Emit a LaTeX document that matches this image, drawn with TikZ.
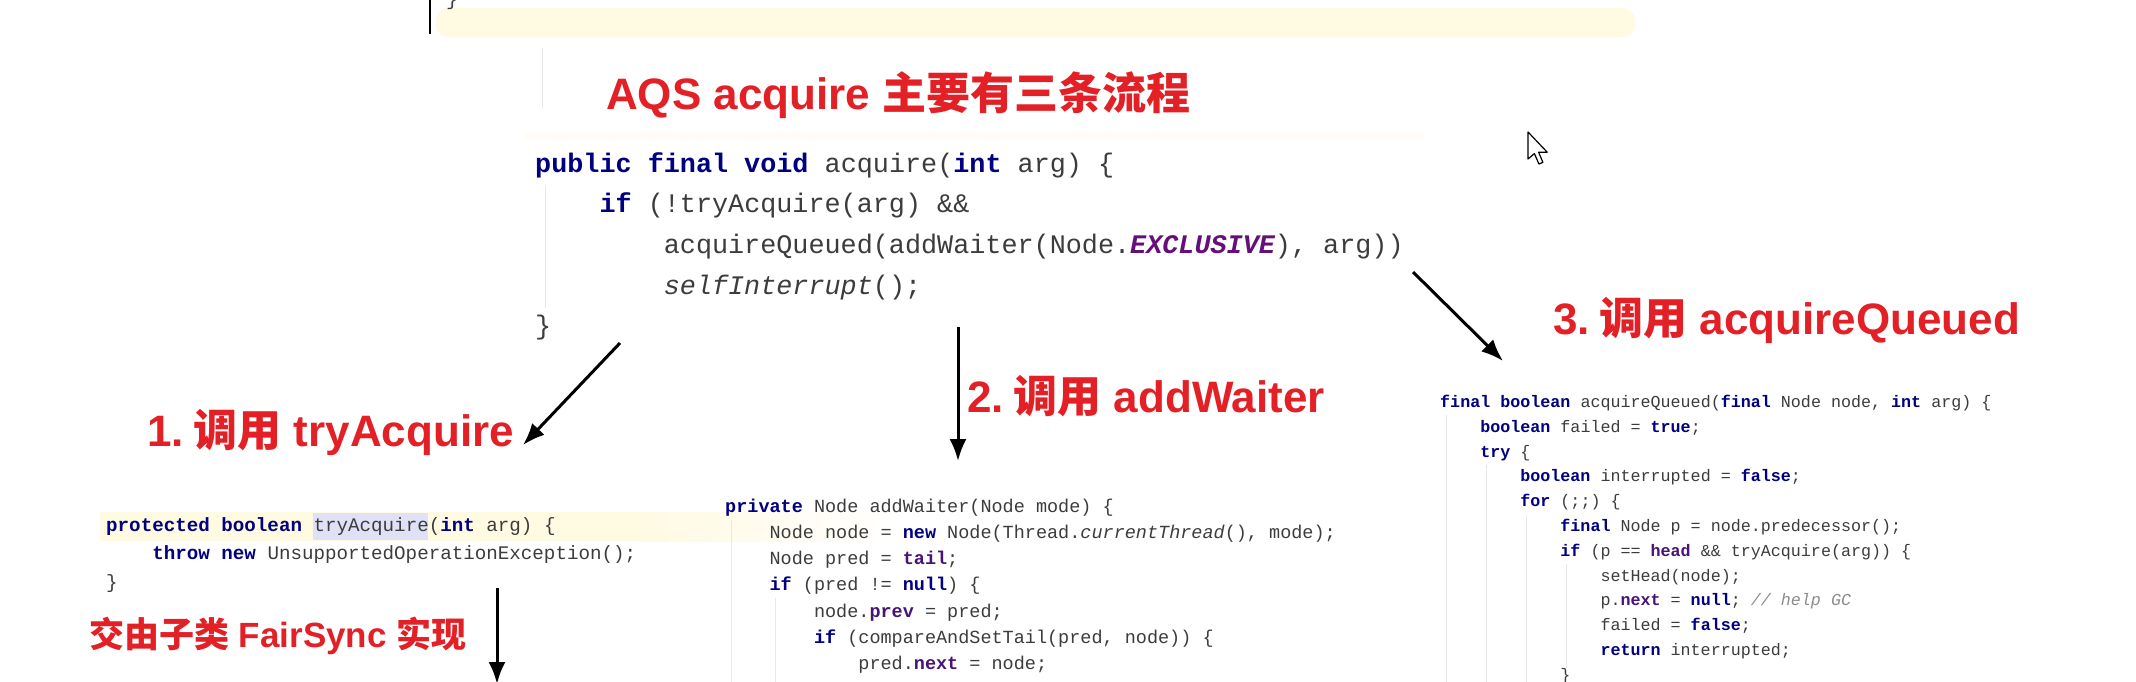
\documentclass[tikz,border=0pt]{standalone}
\usepackage{fontspec}
\setmainfont{Liberation Sans}
\newfontfamily\cjk{Noto Sans CJK SC}
\newfontfamily\codefont{Liberation Mono}
\usetikzlibrary{arrows.meta,positioning}

\definecolor{labelred}{RGB}{226,32,38}
\definecolor{codekw}{RGB}{0,0,128}
\definecolor{codefld}{RGB}{70,20,120}
\definecolor{codecst}{RGB}{102,14,122}
\definecolor{codetxt}{RGB}{60,60,60}
\definecolor{codecmt}{RGB}{140,140,140}
\definecolor{linehl}{RGB}{255,250,226}
\definecolor{wordhl}{RGB}{224,224,246}

\newcommand\kw[1]{{\bfseries\color{codekw}#1}}
\newcommand\fld[1]{{\bfseries\color{codefld}#1}}
\newcommand\cst[1]{{\bfseries\itshape\color{codecst}#1}}
\newcommand\itl[1]{{\itshape #1}}
\newcommand\cmt[1]{{\itshape\color{codecmt}#1}}
\newcommand\indt{\hspace*{2.4em}}

\tikzset{
  lbl/.style={text=labelred, font=\bfseries\fontsize{44}{50}\selectfont,
    inner sep=0pt, anchor=west},
  code/.style args={#1/#2}{font=\codefont\fontsize{#1}{#2}\selectfont,
    text=codetxt, align=left, inner sep=0pt, anchor=north west},
  flow/.style={line width=3pt, -{Latex[length=22pt,width=17pt]}},
  guide/.style={draw=black!9, line width=1pt}
}

\begin{document}
\begin{tikzpicture}[x=1pt, y=-1pt]
  \useasboundingbox (0,0) rectangle (2136,682);
  \fill[white] (0,0) rectangle (2136,682);

  % leftover of the editor above
  \fill[linehl, rounded corners=12pt] (436,8) rectangle (1635,37);
  \draw[line width=2pt] (430,0) -- (430,34);
  \node[code=20/24, anchor=base west] (brace) at (446,6) {\}};
  \draw[guide] (542,48) -- (542,109);

  \node[lbl] (title) at (606,95) {AQS acquire {\cjk 主要有三条流程}};

  \fill[linehl!35] (524,131) rectangle (1423,140);
  \node[code=26.8/40.7] (acq) at (535,152) {%
\kw{public final void} acquire(\kw{int} arg) \{\\
\indt\kw{if} (!tryAcquire(arg) \&\&\\
\indt\indt acquireQueued(addWaiter(Node.\cst{EXCLUSIVE}), arg))\\
\indt\indt\itl{selfInterrupt}();\\
\}};
  \draw[guide] (545,186) -- (545,308);

  \node[lbl] (step1) at (147,432) {1.\hspace{0.22em}{\cjk 调用} tryAcquire};
  \node[lbl] (step2) at (967,396) {2.\hspace{0.22em}{\cjk 调用} addWaiter};
  \node[lbl] (step3) at (1553,320) {3.\hspace{0.22em}{\cjk 调用} acquireQueued};
  \node[lbl, font=\bfseries\fontsize{35}{41}\selectfont] (fair) at (89,636)
    {{\cjk 交由子类} FairSync {\cjk 实现}};

  \fill[linehl] (100,512) rectangle (640,541);
  \shade[left color=linehl, right color=white] (640,512) rectangle (900,541);
  \fill[wordhl] (313,513) rectangle (428,540);
  \node[code=19.2/28.6] (try) at (106,517) {%
\kw{protected boolean} tryAcquire(\kw{int} arg) \{\\
\indt\kw{throw new} UnsupportedOperationException();\\
\}};

  \node[code=18.5/26.1] (wait) at (725,499) {%
\kw{private} Node addWaiter(Node mode) \{\\
\indt Node node = \kw{new} Node(Thread.\itl{currentThread}(), mode);\\
\indt Node pred = \fld{tail};\\
\indt\kw{if} (pred != \kw{null}) \{\\
\indt\indt node.\fld{prev} = pred;\\
\indt\indt\kw{if} (compareAndSetTail(pred, node)) \{\\
\indt\indt\indt pred.\fld{next} = node;};
  \draw[guide] (731,520) -- (731,682);
  \draw[guide] (775,598) -- (775,682);

  \node[code=16.7/24.8] (queued) at (1440,395) {%
\kw{final boolean} acquireQueued(\kw{final} Node node, \kw{int} arg) \{\\
\indt\kw{boolean} failed = \kw{true};\\
\indt\kw{try} \{\\
\indt\indt\kw{boolean} interrupted = \kw{false};\\
\indt\indt\kw{for} (;;) \{\\
\indt\indt\indt\kw{final} Node p = node.predecessor();\\
\indt\indt\indt\kw{if} (p == \fld{head} \&\& tryAcquire(arg)) \{\\
\indt\indt\indt\indt setHead(node);\\
\indt\indt\indt\indt p.\fld{next} = \kw{null}; \cmt{// help GC}\\
\indt\indt\indt\indt failed = \kw{false};\\
\indt\indt\indt\indt\kw{return} interrupted;\\
\indt\indt\indt\}};
  \draw[guide] (1446,415) -- (1446,682);
  \draw[guide] (1486,465) -- (1486,682);
  \draw[guide] (1526,515) -- (1526,682);
  \draw[guide] (1566,564) -- (1566,668);

  \coordinate (s1) at (620,343);
  \coordinate (e1) at ([shift={(9,13)}]step1.east);
  \coordinate (s2) at (958,327);
  \coordinate (e2) at (958,461);
  \coordinate (s3) at (1413,272);
  \coordinate (e3) at ([shift={(63,-34)}]queued.north west);
  \coordinate (s4) at (497,588);
  \coordinate (e4) at (497,684);
  \draw[flow] (s1) -- (e1);
  \draw[flow] (s2) -- (e2);
  \draw[flow] (s3) -- (e3);
  \draw[flow] (s4) -- (e4);

  % mouse pointer
  \draw[fill=white, line width=1.2pt, line join=round, shift={(1528,132)}]
    (0,0) -- (0,27) -- (6.4,21.6) -- (10.9,32) -- (14.9,30.4)
    -- (10.6,20.2) -- (19.2,20.2) -- cycle;
\end{tikzpicture}
\end{document}
